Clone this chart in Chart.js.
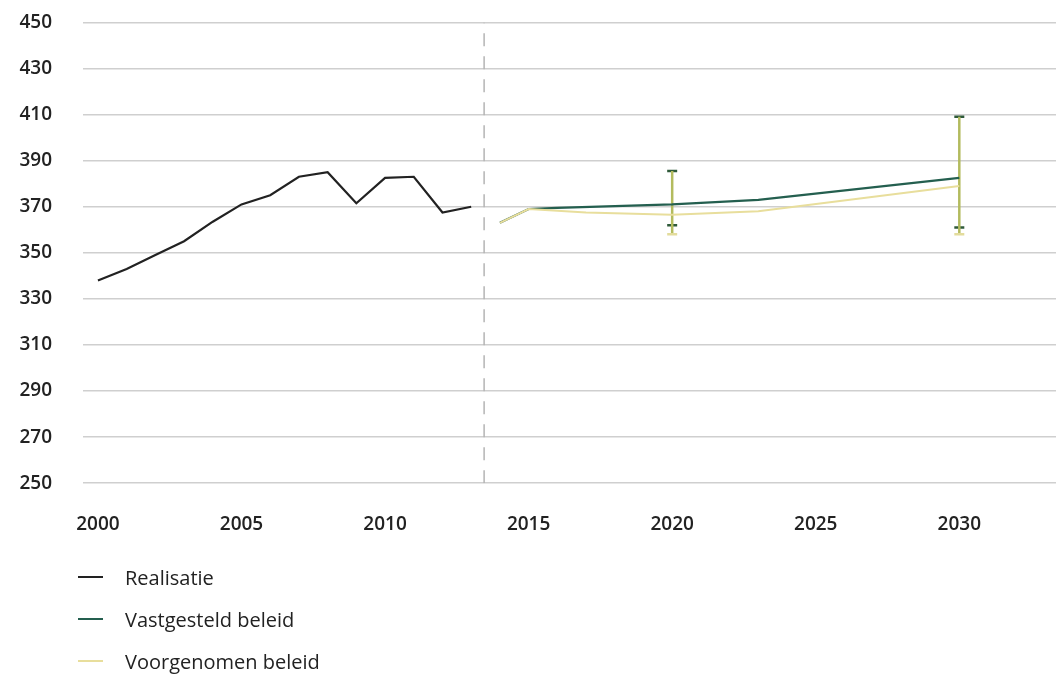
<!DOCTYPE html>
<html lang="nl">
<head>
<meta charset="utf-8">
<script src="https://cdn.jsdelivr.net/npm/chart.js@4.4.0/dist/chart.umd.min.js"></script>
<style>
    body { margin: 0; background: #fff; font-family: 'Open Sans', sans-serif; }
    #wrap { position: relative; width: 1056px; height: 676px; overflow: hidden; }
    #chart-box { position: absolute; left: 0; top: -20px; width: 1065px; height: 586px; }
    #legend { position: absolute; left: 78px; top: 556px; }
    .item { display: flex; align-items: center; height: 42px; font-size: 20px; color: #222; }
    .swatch { width: 25px; height: 0; border-top: 2px solid; margin-right: 22px; }
</style>
</head>
<body>
<div id="wrap">
    <div id="chart-box"><canvas id="chart"></canvas></div>
    <div id="legend"></div>
</div>
<script>
// Realisatie
const realYears = [2000, 2001, 2002, 2003, 2004, 2005, 2006, 2007, 2008, 2009, 2010, 2011, 2012, 2013];
const realValues = [338, 343, 349, 355, 363.5, 371, 375, 383, 385, 371.5, 382.5, 383, 367.5, 370];

// Vastgesteld beleid
const vastYears = [2014, 2015, 2016, 2020, 2023, 2030];
const vastValues = [363, 369, 369.5, 371, 373, 382.5];

// Voorgenomen beleid
const voorYears = [2014, 2015, 2017, 2020, 2023, 2030];
const voorValues = [363, 369, 367.5, 366.5, 368, 379];

// Bandbreedtes
const rangeYears = [2020, 2030];
const vastLow = [362, 361];
const vastHigh = [385.5, 409];
const voorLow = [358, 358];

const dividerYear = 2013.45;
const xTickLabels = [2000, 2005, 2010, 2015, 2020, 2025, 2030];
const yTickLabels = [250, 270, 290, 310, 330, 350, 370, 390, 410, 430, 450];

const seriesNames = ['Realisatie', 'Vastgesteld beleid', 'Voorgenomen beleid'];
const seriesColors = ['#222222', '#245f4f', '#e8de9c'];

const toPoints = (xs, ys) => xs.map((x, i) => ({ x: x, y: ys[i] }));

const datasets = [];

// dashed divider between realisatie and projection
datasets.push({
    data: [{ x: dividerYear, y: yTickLabels[0] }, { x: dividerYear, y: yTickLabels[yTickLabels.length - 1] }],
    borderColor: '#b4b4b4',
    borderWidth: 1.5,
    borderDash: [13, 10],
    pointRadius: 0
});

datasets.push({
    label: seriesNames[2],
    data: toPoints(voorYears, voorValues),
    borderColor: seriesColors[2],
    borderWidth: 2,
    pointRadius: 0
});
datasets.push({
    label: seriesNames[1],
    data: toPoints(vastYears, vastValues),
    borderColor: seriesColors[1],
    borderWidth: 2.2,
    pointRadius: 0
});
datasets.push({
    label: seriesNames[0],
    data: toPoints(realYears, realValues),
    borderColor: seriesColors[0],
    borderWidth: 2.2,
    pointRadius: 0
});

// error bars
rangeYears.forEach((yr, i) => {
    datasets.push({
        data: [{ x: yr, y: voorLow[i] }, { x: yr, y: vastHigh[i] }],
        borderColor: '#b3bb5e',
        borderWidth: 2.5,
        pointStyle: 'line',
        pointRadius: [5, 0],
        pointBorderColor: '#e3dc9c',
        pointBorderWidth: 2.5
    });
    datasets.push({
        data: [{ x: yr, y: vastLow[i] }, { x: yr, y: vastHigh[i] }],
        showLine: false,
        pointStyle: 'line',
        pointRadius: 5,
        pointBorderColor: '#2f5a3a',
        pointBorderWidth: 2.5
    });
});

const tickFont = { family: "'Open Sans', sans-serif", size: 19, weight: '600' };

new Chart(document.getElementById('chart'), {
    type: 'line',
    data: { datasets: datasets },
    options: {
        responsive: true,
        maintainAspectRatio: false,
        animation: false,
        layout: { padding: { top: 12, right: 0, left: 0, bottom: 0 } },
        plugins: {
            legend: { display: false },
            tooltip: { enabled: false }
        },
        scales: {
            x: {
                type: 'linear',
                min: 1999.48,
                max: 2033.42,
                afterBuildTicks: (scale) => {
                    scale.ticks = xTickLabels.map(v => ({ value: v }));
                },
                grid: { display: false, drawTicks: false },
                border: { display: false },
                ticks: {
                    padding: 30,
                    color: '#222',
                    font: tickFont,
                    maxRotation: 0,
                    includeBounds: false,
                    callback: (v) => String(v)
                }
            },
            y: {
                min: yTickLabels[0],
                max: yTickLabels[yTickLabels.length - 1],
                afterBuildTicks: (scale) => {
                    scale.ticks = yTickLabels.map(v => ({ value: v }));
                },
                afterFit: (scale) => { scale.width = 83; },
                grid: { color: '#cfcfcf', lineWidth: 1.5, drawTicks: false },
                border: { display: false },
                ticks: {
                    padding: 31,
                    color: '#222',
                    font: tickFont,
                    callback: (v) => String(v)
                }
            }
        }
    }
});

// legend
const legend = document.getElementById('legend');
seriesNames.forEach((name, i) => {
    const item = document.createElement('div');
    item.className = 'item';
    item.innerHTML = `<span class="swatch" style="border-color:${seriesColors[i]}"></span><span>${name}</span>`;
    legend.appendChild(item);
});
</script>
</body>
</html>
